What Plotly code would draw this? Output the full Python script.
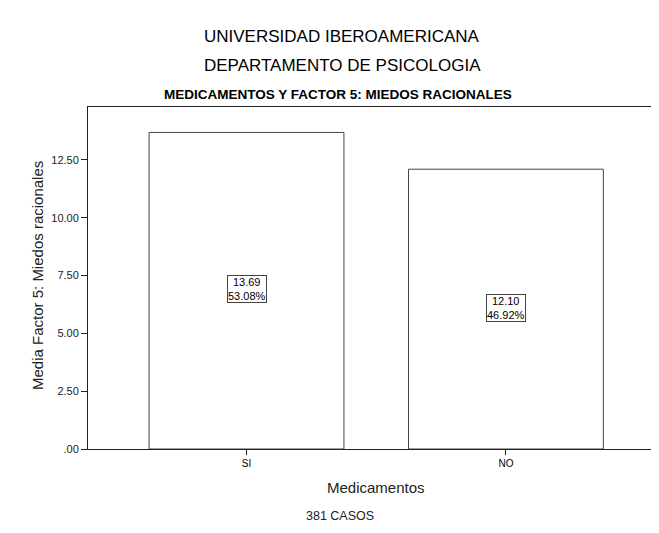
import plotly.graph_objects as go

categories = ["SI", "NO"]
means = [13.69, 12.10]
percents = [53.08, 46.92]
y_tick_vals = [0, 2.5, 5, 7.5, 10, 12.5]
y_tick_text = [".00", "2.50", "5.00", "7.50", "10.00", "12.50"]

# page body has an 8px margin; lay the figure out in screen coordinates minus that offset
OFF = 8
W, H = 651, 517
L, T = 88 - OFF, 107 - OFF
B = H - (449 - OFF)
R = 0
pw, ph = W - L - R, H - T - B

def px(x):
    return (x - OFF - L) / pw

def py(y):
    return (H - B - (y - OFF)) / ph

FONT = "Liberation Sans, Arial, sans-serif"

fig = go.Figure()
fig.add_trace(go.Bar(
    x=list(range(len(categories))), y=means, width=0.751,
    marker=dict(color="white", line=dict(color="#444444", width=1)),
    hoverinfo="skip",
))

annotations = []
for i, (m, p) in enumerate(zip(means, percents)):
    annotations.append(dict(
        x=i, y=m / 2, xref="x", yref="y", text=f"{m:.2f}<br>{p:.2f}%",
        showarrow=False, font=dict(family=FONT, size=11, color="black"),
        bgcolor="white", bordercolor="#444444", borderwidth=1, borderpad=0,
        xanchor="center", yanchor="middle", yshift=1.5,
    ))

annotations += [
    dict(x=px(342), y=py(36), xref="paper", yref="paper", text="UNIVERSIDAD IBEROAMERICANA",
         showarrow=False, font=dict(family=FONT, size=17, color="black"), xanchor="center", yanchor="middle"),
    dict(x=px(342), y=py(65), xref="paper", yref="paper", text="DEPARTAMENTO DE PSICOLOGIA",
         showarrow=False, font=dict(family=FONT, size=17, color="black"), xanchor="center", yanchor="middle"),
    dict(x=px(338), y=py(95), xref="paper", yref="paper", text="<b>MEDICAMENTOS Y FACTOR 5: MIEDOS RACIONALES</b>",
         showarrow=False, font=dict(family=FONT, size=13.5, color="black"), xanchor="center", yanchor="middle"),
    dict(x=px(376), y=py(487), xref="paper", yref="paper", text="Medicamentos",
         showarrow=False, font=dict(family=FONT, size=15, color="#222222"), xanchor="center", yanchor="middle"),
    dict(x=px(340), y=py(525), xref="paper", yref="paper", text="381 CASOS",
         showarrow=False, font=dict(family=FONT, size=12.5, color="#222222"), xanchor="center", yanchor="bottom"),
    dict(x=px(37), y=py(276), xref="paper", yref="paper", text="Media Factor 5: Miedos racionales",
         showarrow=False, textangle=-90, font=dict(family=FONT, size=15, color="#222222"),
         xanchor="center", yanchor="middle"),
]

fig.update_layout(
    width=W, height=H,
    margin=dict(l=L, r=R, t=T, b=B),
    paper_bgcolor="white", plot_bgcolor="white",
    showlegend=False,
    annotations=annotations,
    xaxis=dict(
        range=[-0.611, 1.59], tickvals=list(range(len(categories))), ticktext=categories,
        showgrid=False, zeroline=False, showline=True, linecolor="#222222", linewidth=1, mirror=True,
        ticks="outside", ticklen=5, tickcolor="#222222",
        tickfont=dict(family=FONT, size=10, color="black"),
    ),
    yaxis=dict(
        range=[0, 14.79], tickvals=y_tick_vals, ticktext=y_tick_text,
        showgrid=False, zeroline=False, showline=True, linecolor="#222222", linewidth=1,
        ticks="outside", ticklen=6, tickcolor="#222222",
        tickfont=dict(family=FONT, size=11, color="#222222"),
    ),
)

fig.write_html("out.html")
